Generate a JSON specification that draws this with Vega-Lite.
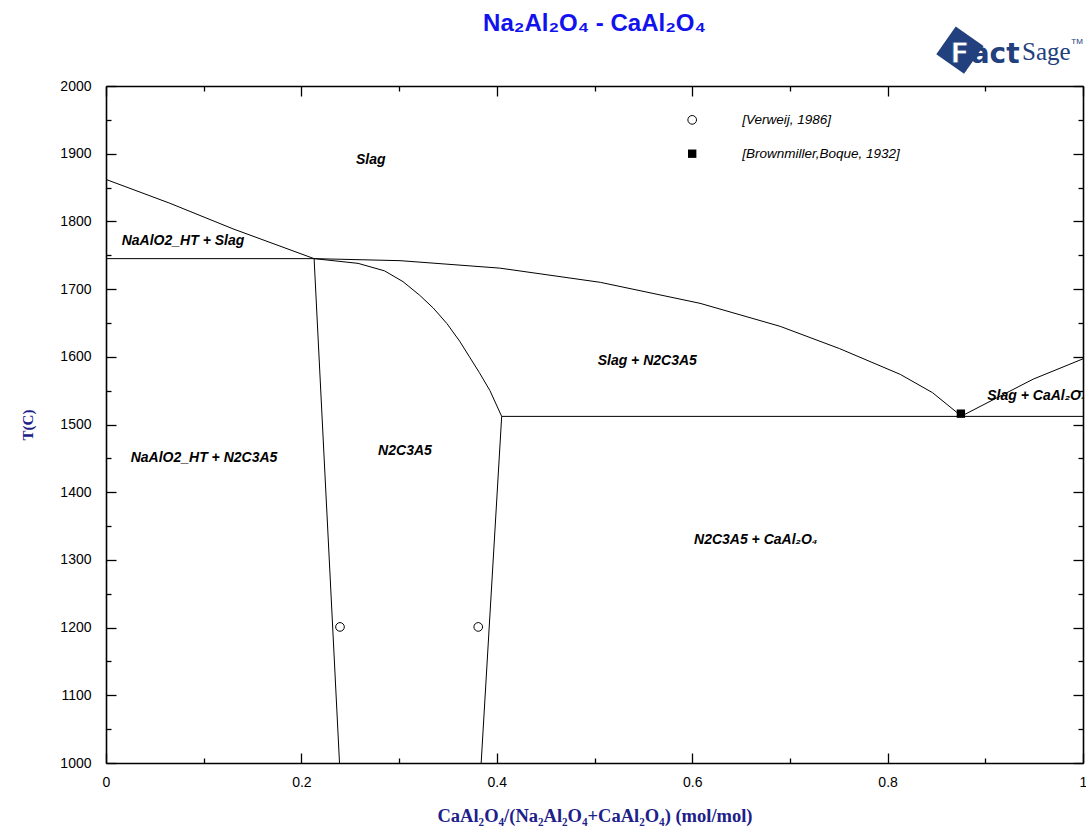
{
  "$schema": "https://vega.github.io/schema/vega-lite/v6.json",
  "width": 977,
  "height": 677,
  "autosize": "none",
  "padding": {"left": 106, "top": 86, "right": 3, "bottom": 68},
  "background": "white",
  "title": {
    "text": "Na₂Al₂O₄ - CaAl₂O₄",
    "font": "Liberation Sans",
    "fontSize": 24,
    "fontWeight": "bold",
    "color": "#1212ee",
    "anchor": "middle",
    "frame": "group",
    "offset": -9
  },
  "config": {
    "view": {"stroke": null},
    "axis": {
      "grid": false,
      "domainColor": "black",
      "domainWidth": 1.6,
      "tickColor": "black",
      "tickWidth": 1.3,
      "labelFont": "Liberation Sans",
      "labelFontSize": 14,
      "labelColor": "black",
      "labelFlush": false,
      "labelOverlap": false,
      "titleFont": "Liberation Serif",
      "titleFontWeight": "bold",
      "titleColor": "#20208a"
    }
  },
  "datasets": {
    "curves": [
      {"seg": "a", "i": 0, "x": 0.0, "T": 1862},
      {"seg": "a", "i": 1, "x": 0.065, "T": 1827},
      {"seg": "a", "i": 2, "x": 0.13, "T": 1789},
      {"seg": "a", "i": 3, "x": 0.213, "T": 1745},
      {"seg": "b", "i": 0, "x": 0.0, "T": 1745},
      {"seg": "b", "i": 1, "x": 0.213, "T": 1745},
      {"seg": "c", "i": 0, "x": 0.213, "T": 1745},
      {"seg": "c", "i": 1, "x": 0.239, "T": 1000},
      {"seg": "d", "i": 0, "x": 0.213, "T": 1745},
      {"seg": "d", "i": 1, "x": 0.301, "T": 1742},
      {"seg": "d", "i": 2, "x": 0.403, "T": 1731},
      {"seg": "d", "i": 3, "x": 0.506, "T": 1710},
      {"seg": "d", "i": 4, "x": 0.608, "T": 1679},
      {"seg": "d", "i": 5, "x": 0.69, "T": 1645},
      {"seg": "d", "i": 6, "x": 0.751, "T": 1612},
      {"seg": "d", "i": 7, "x": 0.813, "T": 1574},
      {"seg": "d", "i": 8, "x": 0.846, "T": 1547},
      {"seg": "d", "i": 9, "x": 0.875, "T": 1513},
      {"seg": "e", "i": 0, "x": 0.213, "T": 1745},
      {"seg": "e", "i": 1, "x": 0.258, "T": 1738},
      {"seg": "e", "i": 2, "x": 0.285, "T": 1727},
      {"seg": "e", "i": 3, "x": 0.304, "T": 1711},
      {"seg": "e", "i": 4, "x": 0.321, "T": 1691},
      {"seg": "e", "i": 5, "x": 0.335, "T": 1672},
      {"seg": "e", "i": 6, "x": 0.349, "T": 1649},
      {"seg": "e", "i": 7, "x": 0.362, "T": 1623},
      {"seg": "e", "i": 8, "x": 0.372, "T": 1600},
      {"seg": "e", "i": 9, "x": 0.382, "T": 1577},
      {"seg": "e", "i": 10, "x": 0.393, "T": 1550},
      {"seg": "e", "i": 11, "x": 0.405, "T": 1512},
      {"seg": "f", "i": 0, "x": 0.405, "T": 1512},
      {"seg": "f", "i": 1, "x": 0.384, "T": 1000},
      {"seg": "g", "i": 0, "x": 0.405, "T": 1512},
      {"seg": "g", "i": 1, "x": 1.0, "T": 1512},
      {"seg": "h", "i": 0, "x": 0.875, "T": 1512},
      {"seg": "h", "i": 1, "x": 0.949, "T": 1567},
      {"seg": "h", "i": 2, "x": 1.0, "T": 1597}
    ],
    "obs": [
      {"src": "Verweij", "x": 0.2395, "T": 1201},
      {"src": "Verweij", "x": 0.381, "T": 1201},
      {"src": "Brownmiller", "x": 0.875, "T": 1516}
    ],
    "legend": [
      {"src": "Verweij", "x": 0.6, "T": 1950, "label": "[Verweij, 1986]"},
      {"src": "Brownmiller", "x": 0.6, "T": 1900, "label": "[Brownmiller,Boque, 1932]"}
    ],
    "regions": [
      {"label": "Slag", "x": 0.271, "T": 1891},
      {"label": "NaAlO2_HT + Slag", "x": 0.0788, "T": 1771},
      {"label": "NaAlO2_HT + N2C3A5", "x": 0.1003, "T": 1450},
      {"label": "N2C3A5", "x": 0.306, "T": 1461},
      {"label": "Slag + N2C3A5", "x": 0.554, "T": 1594},
      {"label": "N2C3A5 + CaAl₂O₄", "x": 0.665, "T": 1329}
    ],
    "edgeRegion": [
      {"label": "Slag + CaAl₂O₄", "x": 0.902, "T": 1542}
    ],
    "logo": [
      {"part": "box", "x": 0.874, "T": 2053, "label": ""},
      {"part": "F", "x": 0.864, "T": 2034, "label": "F"},
      {"part": "act", "x": 0.885, "T": 2034, "label": "act"},
      {"part": "Sage", "x": 0.9376, "T": 2039, "label": "Sage"},
      {"part": "TM", "x": 0.994, "T": 2065, "label": "TM"}
    ]
  },
  "layer": [
    {
      "encoding": {
        "x": {
          "field": "x",
          "type": "quantitative",
          "scale": {"domain": [0, 1], "nice": false, "zero": false},
          "axis": {
            "orient": "bottom",
            "values": [0, 0.1, 0.2, 0.3, 0.4, 0.5, 0.6, 0.7, 0.8, 0.9, 1],
            "labelExpr": "round(datum.value*10)%2===0 ? format(datum.value, '~g') : ''",
            "tickSize": {"condition": {"test": "round(datum.value*10)%2===0", "value": -10}, "value": -5},
            "labelPadding": 22,
            "title": "CaAl₂O₄/(Na₂Al₂O₄+CaAl₂O₄) (mol/mol)",
            "titleFontSize": 18.5,
            "titlePadding": 12
          }
        },
        "y": {
          "field": "T",
          "type": "quantitative",
          "scale": {"domain": [1000, 2000], "nice": false, "zero": false},
          "axis": {
            "orient": "left",
            "values": [1000, 1050, 1100, 1150, 1200, 1250, 1300, 1350, 1400, 1450, 1500, 1550, 1600, 1650, 1700, 1750, 1800, 1850, 1900, 1950, 2000],
            "labelExpr": "datum.value%100===0 ? format(datum.value, 'd') : ''",
            "tickSize": {"condition": {"test": "datum.value%100===0", "value": -10}, "value": -5},
            "labelPadding": 25,
            "title": "T(C)",
            "titleFontSize": 15,
            "titlePadding": 24
          }
        }
      },
      "layer": [
        {
          "data": {"name": "curves"},
          "mark": {"type": "line", "color": "black", "strokeWidth": 1, "clip": true},
          "encoding": {
            "detail": {"field": "seg"},
            "order": {"field": "i", "type": "quantitative"}
          }
        },
        {
          "data": {"name": "obs"},
          "transform": [{"filter": "datum.src === 'Verweij'"}],
          "mark": {"type": "point", "shape": "circle", "filled": false, "stroke": "black", "strokeWidth": 1, "size": 75, "opacity": 1}
        },
        {
          "data": {"name": "obs"},
          "transform": [{"filter": "datum.src === 'Brownmiller'"}],
          "mark": {"type": "point", "shape": "square", "filled": true, "fill": "black", "size": 70, "opacity": 1}
        },
        {
          "data": {"name": "legend"},
          "transform": [{"filter": "datum.src === 'Verweij'"}],
          "mark": {"type": "point", "shape": "circle", "filled": false, "stroke": "black", "strokeWidth": 1, "size": 75, "opacity": 1}
        },
        {
          "data": {"name": "legend"},
          "transform": [{"filter": "datum.src === 'Brownmiller'"}],
          "mark": {"type": "point", "shape": "square", "filled": true, "fill": "black", "size": 70, "opacity": 1}
        },
        {
          "data": {"name": "legend"},
          "mark": {"type": "text", "align": "left", "baseline": "middle", "dx": 50, "font": "Liberation Sans", "fontStyle": "italic", "fontSize": 13.5, "color": "black"},
          "encoding": {"text": {"field": "label"}}
        },
        {
          "data": {"name": "regions"},
          "mark": {"type": "text", "align": "center", "baseline": "middle", "font": "Liberation Sans", "fontStyle": "italic", "fontWeight": "bold", "fontSize": 14, "color": "black"},
          "encoding": {"text": {"field": "label"}}
        },
        {
          "data": {"name": "edgeRegion"},
          "mark": {"type": "text", "align": "left", "baseline": "middle", "clip": true, "font": "Liberation Sans", "fontStyle": "italic", "fontWeight": "bold", "fontSize": 14, "color": "black"},
          "encoding": {"text": {"field": "label"}}
        },
        {
          "data": {"name": "logo"},
          "transform": [{"filter": "datum.part === 'box'"}],
          "mark": {"type": "point", "shape": "square", "filled": true, "fill": "#22407e", "size": 1150, "angle": 35, "opacity": 1}
        },
        {
          "data": {"name": "logo"},
          "transform": [{"filter": "datum.part === 'F'"}],
          "mark": {"type": "text", "align": "left", "baseline": "alphabetic", "font": "DejaVu Sans", "fontWeight": "bold", "fontSize": 28, "fill": "white", "stroke": "#22407e", "strokeWidth": 1},
          "encoding": {"text": {"field": "label"}}
        },
        {
          "data": {"name": "logo"},
          "transform": [{"filter": "datum.part === 'act'"}],
          "mark": {"type": "text", "align": "left", "baseline": "alphabetic", "font": "DejaVu Sans", "fontWeight": "bold", "fontSize": 28, "color": "#22407e"},
          "encoding": {"text": {"field": "label"}}
        },
        {
          "data": {"name": "logo"},
          "transform": [{"filter": "datum.part === 'Sage'"}],
          "mark": {"type": "text", "align": "left", "baseline": "alphabetic", "font": "Liberation Sans Narrow", "fontSize": 25, "color": "#22407e"},
          "encoding": {"text": {"field": "label"}}
        },
        {
          "data": {"name": "logo"},
          "transform": [{"filter": "datum.part === 'TM'"}],
          "mark": {"type": "text", "align": "center", "baseline": "middle", "font": "Liberation Sans", "fontSize": 8, "color": "#22407e"},
          "encoding": {"text": {"field": "label"}}
        }
      ]
    },
    {
      "data": {"name": "legend"},
      "mark": {"type": "point", "opacity": 0},
      "encoding": {
        "x": {
          "field": "x",
          "type": "quantitative",
          "scale": {"domain": [0, 1], "nice": false, "zero": false},
          "axis": {
            "orient": "top",
            "values": [0, 0.1, 0.2, 0.3, 0.4, 0.5, 0.6, 0.7, 0.8, 0.9, 1],
            "labels": false,
            "title": null,
            "tickSize": {"condition": {"test": "round(datum.value*10)%2===0", "value": -10}, "value": -5}
          }
        },
        "y": {
          "field": "T",
          "type": "quantitative",
          "scale": {"domain": [1000, 2000], "nice": false, "zero": false},
          "axis": {
            "orient": "right",
            "values": [1000, 1050, 1100, 1150, 1200, 1250, 1300, 1350, 1400, 1450, 1500, 1550, 1600, 1650, 1700, 1750, 1800, 1850, 1900, 1950, 2000],
            "labels": false,
            "title": null,
            "tickSize": {"condition": {"test": "datum.value%100===0", "value": -10}, "value": -5}
          }
        }
      }
    }
  ],
  "resolve": {"axis": {"x": "independent", "y": "independent"}}
}
